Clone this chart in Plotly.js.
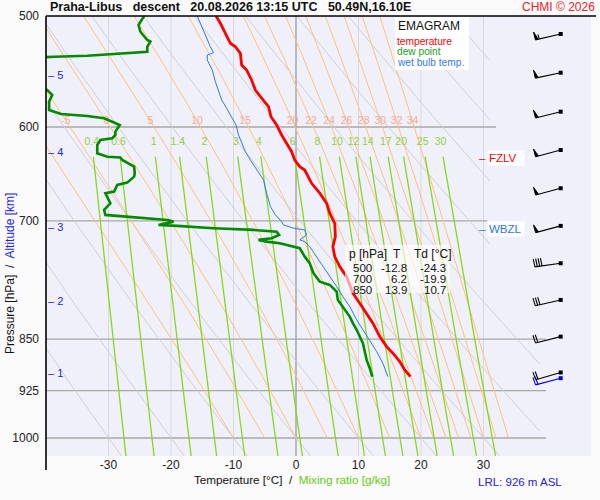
<!DOCTYPE html>
<html>
<head>
<meta charset="utf-8">
<script src="https://cdn.plot.ly/plotly-3.0.1.min.js"></script>
<style>html,body{margin:0;padding:0;background:#fafafa}</style>
</head>
<body>
<div id="chart" style="width:600px;height:500px"></div>
<script>
// sounding data (hPa, deg C)
var tempP = [500, 506, 514.4, 522.9, 525.9, 531.6, 541.9, 546.4, 555.4, 564.6, 572.3, 580.3, 589.9, 598, 607.9, 616.2, 624.8, 633.4, 640.4, 643.9,
             658.1, 668.9, 680.1, 691.3, 702.8, 718.4, 730.3, 742.4, 754.7, 767.2, 788.3, 801.4, 814.7, 828.1, 846.6, 860.6, 870, 882.1, 894.2, 904.1];
var tempT = [-12.8, -12.1, -11.3, -10.5, -9.7, -8.9, -8.7, -7.9, -7.1, -6.5, -5.5, -4.4, -4.0, -3.1, -2.3, -1.5, -0.7, -0.2, 0.6, 1.4,
             2.5, 3.8, 4.9, 5.4, 6.2, 6.3, 5.9, 6.2, 7.0, 8.1, 9.1, 10.2, 11.3, 12.3, 13.4, 14.5, 15.5, 16.6, 17.4, 18.3];

var dewP = [500, 507.4, 513.1, 520.1, 521.5, 525.9, 530.2, 531.1, 532.2, 533.7, 534.6, 535.5, 563.5, 564.6, 569.2, 575.5, 583.5, 587.3, 589.2, 591.5,
            594.8, 598, 604.6, 607.9, 611.2, 612.9, 618, 626.5, 630, 630.8, 633.4, 640.4, 647.4, 651, 657.4, 659.9, 667.2, 668.9, 680.1, 687.5,
            693.2, 695.8, 698.2, 699, 700.9, 704.7, 705.8, 708.5, 710.5, 712.5, 716.3, 720.3, 722.2, 724.3, 726.2, 730.3, 732.2, 742.4, 750.5, 762.9,
            773.5, 777.7, 786.3, 797.1, 805.8, 819.2, 828.1, 837.2, 855.7, 870, 879.6, 891.7, 904.1];
var dewT = [-24.3, -25.2, -24.9, -23.8, -23.3, -23.8, -23.8, -25.9, -29.7, -33.4, -38.7, -42, -41.5, -39.8, -39.0, -39.5, -39.5, -37.6, -33.4, -30.7,
            -29.4, -28.2, -28.9, -28.9, -29.4, -31.3, -31.8, -31.8, -30.2, -28.1, -27.8, -25.9, -25.8, -25.9, -27.0, -28.6, -29.1, -30.5, -29.7, -30.7,
            -30.5, -25.9, -22.2, -20.6, -19.6, -22.0, -19.0, -13.2, -6.8, -3.1, -2.7, -3.9, -6.0, -4.7, -2.6, -0.4, 0.6, 1.4, 2.2, 2.8,
            3.8, 5.4, 6.5, 6.7, 7.5, 8.6, 9.1, 9.7, 10.7, 11.0, 11.3, 11.8, 12.2];

var wbP = [500, 506, 517.3, 525.9, 531.1, 533.1, 537.5, 546.4, 557, 564.6, 573.9, 581.8, 589.9, 598, 607.9, 616.2, 624.8, 633.4, 643.9, 654.5,
           668.9, 683.8, 693.2, 700.9, 704.7, 708.5, 710.5, 716.3, 722.2, 724.3, 730.3, 742.4, 754.7, 767.2, 779.8, 792.7, 805.8, 823.5, 837.2, 851,
           867.6, 884.5, 904.1];
var wbT = [-15.8, -15.3, -14.5, -13.7, -13.2, -14.2, -14.2, -13.4, -12.9, -12.4, -11.9, -11.1, -10.3, -9.6, -9.2, -8.7, -8.1, -7.3, -6.3, -5.2,
           -4.7, -4.1, -3.3, -2.3, -2.0, -0.4, 1.4, 1.7, 0.6, 1.4, 2.2, 3.3, 4.4, 5.4, 6.5, 7.5, 8.6, 9.7, 10.7, 11.8,
           12.9, 13.9, 14.7];

// wind barbs (hPa, deg, kt); last level is the launch point
var windP = [515, 548.8, 585.1, 623.1, 663.5, 705.8, 750.5, 797.1, 846.6, 898];
var windDir = [257, 258, 256, 255, 255, 255, 262, 257, 256, 254];
var windKt = [55, 50, 50, 50, 50, 50, 40, 30, 20, 20];
var lrlP = 906.4, lrlDir = 255, lrlKt = 20;

// altitude marks
var altKm = [1, 2, 3, 4, 5];
var altP = [898, 798, 707, 625, 551];

var fzlvP = 631;
var wbzlP = 709;

// background diagrams
var dryTheta = [-30, -20, -10, 0, 10, 20, 30, 40, 50, 60, 70, 80, 90];
var moistTheta = [-10, -5, 0, 5, 10, 15, 20, 22, 24, 26, 28, 30, 32, 34];
var moistLabels = [-5, 0, 5, 10, 15, 20, 22, 24, 26, 28, 30, 32, 34];
var mixRatios = [0.4, 0.6, 1, 1.4, 2, 3, 4, 6, 8, 10, 12, 14, 17, 20, 25, 30];
var mixLabels = ['0.4', '0.6', '1', '1.4', '2', '3', '4', '6', '8', '10', '12', '14', '17', '20', '25', '30'];

var tempGrid = [-30, -20, -10, 0, 10, 20, 30];
var pressGrid = [600, 700, 850, 925, 1000];
var pTicks = [500, 600, 700, 850, 925, 1000];
var tTicks = [-30, -20, -10, 0, 10, 20, 30];

// table of standard levels
var statP = ['500', '700', '850'];
var statT = ['-12.8', '6.2', '13.9'];
var statTd = ['-24.3', '-19.9', '10.7'];

var FONT = 'Arial, "Liberation Sans", sans-serif';
var W = 600, H = 500;
var M = {l: 46, r: 9, t: 16, b: 44};
var plotW = W - M.l - M.r, plotH = H - M.t - M.b;
var tRange = [-40, 47.2];
var pTop = 500, pBottom = 1030;
var barbT = 42.35;

function paperX(x) { return (x - M.l) / plotW; }
function paperY(y) { return (H - M.b - y) / plotH; }

var pxPerC = plotW / (tRange[1] - tRange[0]);
var logSpan = Math.log10(pBottom) - Math.log10(pTop);

function toPx(t, p)
{
    return [(t - tRange[0]) * pxPerC, (Math.log10(p) - Math.log10(pTop)) / logSpan * plotH];
}

function fromPx(x, y)
{
    return [tRange[0] + x / pxPerC, Math.pow(10, Math.log10(pTop) + y / plotH * logSpan)];
}

function clipRight(xs, ys, tMax)
{
    var ox = [], oy = [];
    for (var i = 0; i < xs.length; i++)
    {
        var inside = xs[i] <= tMax;
        if (i > 0 && (xs[i - 1] <= tMax) != inside)
        {
            var f = (tMax - xs[i - 1]) / (xs[i] - xs[i - 1]);
            ox.push(tMax);
            oy.push(ys[i - 1] * Math.pow(ys[i] / ys[i - 1], f));
            if (!inside) { ox.push(null); oy.push(null); }
        }
        if (inside) { ox.push(xs[i]); oy.push(ys[i]); }
    }
    return [ox, oy];
}

function valueAt(xs, ys, p)
{
    for (var i = 1; i < ys.length; i++)
    {
        if ((ys[i - 1] - p) * (ys[i] - p) <= 0)
        {
            var f = (p - ys[i - 1]) / (ys[i] - ys[i - 1]);
            return xs[i - 1] + f * (xs[i] - xs[i - 1]);
        }
    }
    return null;
}

// saturated adiabatic lapse rate, K per hPa
function moistRate(T, p)
{
    var Rd = 287.04, Cp = 1005.7, Lv = 2.501e6, eps = 0.622;
    var es = 6.112 * Math.exp(17.67 * (T - 273.15) / (T - 29.65));
    var rs = eps * es / (p - es);
    return (Rd * T + Lv * rs) / (p * (Cp + Lv * Lv * rs * eps / (Rd * T * T)));
}

function moistLine(tw)
{
    var T = tw + 273.15, p = 1000, h = -5;
    var xs = [tw], ys = [1000];
    while (p > pTop + 0.01)
    {
        var k1 = moistRate(T, p);
        var k2 = moistRate(T + h * k1 / 2, p + h / 2);
        var k3 = moistRate(T + h * k2 / 2, p + h / 2);
        var k4 = moistRate(T + h * k3, p + h);
        T += h * (k1 + 2 * k2 + 2 * k3 + k4) / 6;
        p += h;
        xs.push(T - 273.15);
        ys.push(p);
    }
    return [xs, ys];
}

function dryLine(theta)
{
    var xs = [], ys = [];
    for (var p = pBottom; p >= pTop; p -= 10)
    {
        xs.push((theta + 273.15) * Math.pow(p / 1000, 0.2857) - 273.15);
        ys.push(p);
    }
    return [xs, ys];
}

function mixT(w, p)
{
    var e = w * p / (622 + w);
    var l = Math.log(e / 6.112);
    return 243.5 * l / (17.67 - l);
}

function mixLine(w)
{
    var xs = [], ys = [];
    for (var p = 630; p <= pBottom; p += 20)
    {
        xs.push(mixT(w, p));
        ys.push(p);
    }
    return [xs, ys];
}

function joinLines(lines)
{
    var x = [], y = [];
    for (var line of lines)
    {
        x = x.concat(line[0], [null]);
        y = y.concat(line[1], [null]);
    }
    return [x, y];
}

function lineTrace(xy, color, width)
{
    return {x: xy[0], y: xy[1], mode: 'lines', type: 'scatter', hoverinfo: 'skip',
            line: {color: color, width: width}, connectgaps: false};
}

// wind barb geometry in pixels, converted back to data space
function barb(p, dir, kt, sticks, flags)
{
    var s = toPx(barbT, p);
    var r = dir * Math.PI / 180;
    var ux = Math.sin(r), uy = -Math.cos(r);
    var nx = -uy, ny = ux;
    var L = 26, B = 8;
    var tail = [s[0] + ux * L, s[1] + uy * L];
    function pt(d, h) { return fromPx(tail[0] - ux * d + nx * h, tail[1] - uy * d + ny * h); }
    function push(arr, pts) { for (var q of pts) { arr.x.push(q[0]); arr.y.push(q[1]); } arr.x.push(null); arr.y.push(null); }

    push(sticks, [fromPx(s[0], s[1]), fromPx(tail[0], tail[1])]);
    var rest = Math.round(kt / 5) * 5, pos = 0;
    while (rest >= 50) { push(flags, [pt(pos, 0), pt(pos, B), pt(pos + 3, 0)]); pos += 4; rest -= 50; }
    while (rest >= 10) { push(sticks, [pt(pos, 0), pt(pos - 0.6, B)]); pos += 2.4; rest -= 10; }
    if (rest >= 5) { push(sticks, [pt(pos, 0), pt(pos - 0.3, B * 0.6)]); }
    return fromPx(s[0], s[1]);
}

var traces = [];

// grid
var vGrid = [];
for (var t of tempGrid) if (t != 0) vGrid.push([[t, t], [pBottom, pTop]]);
traces.push(lineTrace(joinLines(vGrid), '#d9d9dd', 1));
traces.push(lineTrace([[0, 0], [pBottom, pTop]], '#9a9a9a', 1.3));

var gridEnd = {600: 32, 700: 30.6};
var hGrid = [];
for (var p of pressGrid) hGrid.push([[-40, gridEnd[p] || 40], [p, p]]);
traces.push(lineTrace(joinLines(hGrid), '#a8a8a8', 1.3));

// dry adiabats
var dry = [];
for (var th of dryTheta)
{
    var d = dryLine(th);
    dry.push(clipRight(d[0], d[1], th >= 60 ? 31 : 39));
}
traces.push(lineTrace(joinLines(dry), '#d0d0d4', 1));

// saturated adiabats
var moist = [], moistLabX = [], moistLabY = [];
var moistByTheta = {};
for (var tw of moistTheta)
{
    var m = moistLine(tw);
    moistByTheta[tw] = m;
    moist.push(clipRight(m[0], m[1], 40));
}
traces.push(lineTrace(joinLines(moist), '#ffc27a', 1));
for (var lab of moistLabels)
{
    moistLabX.push(valueAt(moistByTheta[lab][0], moistByTheta[lab][1], 594));
    moistLabY.push(594);
}

// mixing ratio lines
var mix = [], mixLabX = [], mixLabY = [];
for (var w of mixRatios)
{
    mix.push(mixLine(w));
    mixLabX.push(mixT(w, 615));
    mixLabY.push(615);
}
traces.push(lineTrace(joinLines(mix), '#88d81a', 1.3));

traces.push({x: moistLabX, y: moistLabY, text: moistLabels.map(String), mode: 'text', type: 'scatter', hoverinfo: 'skip',
             textfont: {family: FONT, size: 10.5, color: '#f7a98e'}, cliponaxis: false});
traces.push({x: mixLabX, y: mixLabY, text: mixLabels, mode: 'text', type: 'scatter', hoverinfo: 'skip',
             textfont: {family: FONT, size: 10.5, color: '#94cf3c'}, cliponaxis: false});

// profiles
traces.push(lineTrace([wbT, wbP], '#2a78e4', 1));
traces.push(lineTrace([dewT, dewP], '#008a00', 2.6));
traces.push(lineTrace([tempT, tempP], '#ff0000', 2.8));

// wind barbs
var blackSticks = {x: [], y: []}, blackFlags = {x: [], y: []};
var dotsX = [], dotsY = [];
for (var i = 0; i < windP.length; i++)
{
    var st = barb(windP[i], windDir[i], windKt[i], blackSticks, blackFlags);
    dotsX.push(st[0]); dotsY.push(st[1]);
}
var blueSticks = {x: [], y: []}, blueFlags = {x: [], y: []};
var blueDot = barb(lrlP, lrlDir, lrlKt, blueSticks, blueFlags);

traces.push(lineTrace([blueSticks.x, blueSticks.y], '#0000ee', 1.1));
traces.push({x: [blueDot[0]], y: [blueDot[1]], mode: 'markers', type: 'scatter', hoverinfo: 'skip',
             marker: {symbol: 'square', size: 4, color: '#0000ee'}, cliponaxis: false});
traces.push(lineTrace([blackSticks.x, blackSticks.y], '#000000', 1.1));
traces.push({x: blackFlags.x, y: blackFlags.y, mode: 'lines', type: 'scatter', fill: 'toself', fillcolor: '#000000',
             hoverinfo: 'skip', line: {color: '#000000', width: 1}});
traces.push({x: dotsX, y: dotsY, mode: 'markers', type: 'scatter', hoverinfo: 'skip',
             marker: {symbol: 'square', size: 4, color: '#000000'}, cliponaxis: false});

var annotations = [];

function note(text, x, y, opts)
{
    var a = {text: text, x: paperX(x), y: paperY(y), xref: 'paper', yref: 'paper', showarrow: false,
             xanchor: 'left', yanchor: 'middle', font: {family: FONT, size: 12, color: '#222'}};
    for (var k in opts) a[k] = opts[k];
    annotations.push(a);
}

note('<b>Praha-Libus\u00a0\u00a0 descent\u00a0\u00a0 20.08.2026 13:15 UTC\u00a0\u00a0 50.49N,16.10E</b>', 48, 7, {font: {family: FONT, size: 12.5, color: '#111'}});
note('CHMI \u00a9 2026', 597, 7, {xanchor: 'right', font: {family: FONT, size: 12, color: '#ee2222'}});

note('EMAGRAM', 396, 26, {font: {family: FONT, size: 12, color: '#111'}});
note('temperature', 396, 41.5, {borderpad: 0, font: {family: FONT, size: 10.2, color: '#ff0000'}});
note('dew point', 396, 52, {borderpad: 0, font: {family: FONT, size: 10.2, color: '#22a022'}});
note('wet bulb temp.', 396, 62.5, {borderpad: 0, font: {family: FONT, size: 10.2, color: '#3377ee'}});

note('p [hPa]', 347, 254, {font: {family: FONT, size: 12, color: '#111'}});
note('T', 397, 254, {xanchor: 'center', font: {family: FONT, size: 12, color: '#111'}});
note('Td [\u00b0C]', 412, 254, {font: {family: FONT, size: 12, color: '#111'}});
for (var i = 0; i < statP.length; i++)
{
    var yy = 268 + i * 11;
    note(statP[i], 373, yy, {xanchor: 'right', borderpad: 0, font: {family: FONT, size: 11.5, color: '#111'}});
    note(statT[i], 408, yy, {xanchor: 'right', borderpad: 0, font: {family: FONT, size: 11.5, color: '#111'}});
    note(statTd[i], 447, yy, {xanchor: 'right', borderpad: 0, font: {family: FONT, size: 11.5, color: '#111'}});
}

note('Pressure [hPa]\u00a0 /\u00a0 <span style="color:#2222ee">Altitude [km]</span>', 10, 274,
     {xanchor: 'center', textangle: -90, font: {family: FONT, size: 12, color: '#111'}});
note('Temperature [\u00b0C]\u00a0 /\u00a0 <span style="color:#66cc11">Mixing ratio [g/kg]</span>', 292, 479,
     {xanchor: 'center', font: {family: FONT, size: 11.7, color: '#111'}});
note('LRL: 926 m ASL', 520, 482, {xanchor: 'center', font: {family: FONT, size: 11.5, color: '#2222dd'}});

for (var i = 0; i < altKm.length; i++)
{
    annotations.push({text: '\u2013 ' + altKm[i], x: paperX(46), y: Math.log10(altP[i]), xref: 'paper', yref: 'y',
                      showarrow: false, xanchor: 'left', yanchor: 'middle',
                      font: {family: FONT, size: 11, color: '#2222ee'}});
}

var levelLabels = [['FZLV', fzlvP, '#ff0000'], ['WBZL', wbzlP, '#2a78e4']];
var shapes = [];
for (var lv of levelLabels)
{
    annotations.push({text: lv[0], x: paperX(487), y: Math.log10(lv[1]), xref: 'paper', yref: 'y', showarrow: false,
                      xanchor: 'left', yanchor: 'middle', align: 'left', width: 34, bgcolor: '#ffffff', borderpad: 1,
                      font: {family: FONT, size: 11.5, color: lv[2]}});
    annotations.push({text: '\u2013', x: paperX(478), y: Math.log10(lv[1]), xref: 'paper', yref: 'y', showarrow: false,
                      xanchor: 'left', yanchor: 'middle', borderpad: 0,
                      font: {family: FONT, size: 11.5, color: lv[2]}});
}

shapes.push({type: 'rect', xref: 'paper', yref: 'paper', x0: paperX(395), x1: paperX(469), y0: paperY(70), y1: paperY(17),
             fillcolor: '#ffffff', line: {width: 0}, layer: 'above'});
shapes.push({type: 'rect', xref: 'paper', yref: 'paper', x0: paperX(345), x1: paperX(450), y0: paperY(293), y1: paperY(245),
             fillcolor: 'rgba(255,255,255,0.62)', line: {width: 0}, layer: 'above'});
shapes.push({type: 'line', xref: 'paper', yref: 'paper', x0: 0, x1: 0, y0: 1, y1: paperY(470), line: {color: '#000', width: 1.6}});
shapes.push({type: 'line', xref: 'paper', yref: 'paper', x0: 0, x1: paperX(596), y0: 1, y1: 1, line: {color: '#000', width: 1.6}});

var layout =
{
    width: W, height: H,
    margin: {l: M.l, r: M.r, t: M.t, b: M.b, pad: 0},
    paper_bgcolor: '#fafafa',
    plot_bgcolor: '#f0f0fb',
    showlegend: false,
    font: {family: FONT, size: 12, color: '#222'},
    xaxis: {range: tRange, tickvals: tTicks, ticktext: tTicks.map(String), ticks: '', showgrid: false, zeroline: false,
            showline: false, fixedrange: true, tickfont: {family: FONT, size: 12, color: '#222'}},
    yaxis: {type: 'log', range: [Math.log10(pBottom), Math.log10(pTop)], tickvals: pTicks, ticktext: pTicks.map(String),
            ticks: '', showgrid: false, zeroline: false, showline: false, fixedrange: true, ticklabelstandoff: 6,
            tickfont: {family: FONT, size: 12, color: '#222'}},
    shapes: shapes,
    annotations: annotations
};

Plotly.newPlot('chart', traces, layout, {displayModeBar: false, staticPlot: true});
</script>
</body>
</html>
